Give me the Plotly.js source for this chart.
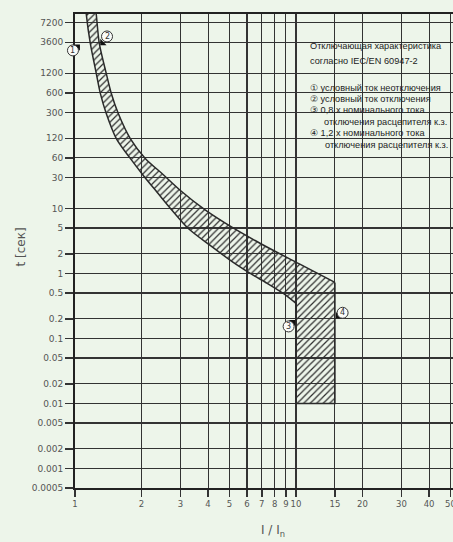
<!DOCTYPE html>
<html><head><meta charset="utf-8">
<script src="https://cdn.plot.ly/plotly-3.0.1.min.js"></script>
<style>html,body{margin:0;padding:0;background:#edf5ea;overflow:hidden;}#chart{width:453px;height:542px;}</style>
</head><body><div id="chart"></div>
<script>
// Tick values / labels
const xTicks = [1,2,3,4,5,6,7,8,9,10,15,20,30,40,50];
const xTickText = ['1','2','3','4','5','6','7','8','9','10','15','20','30','40','50'];
const yTicks = [7200,3600,1200,600,300,120,60,30,10,5,2,1,0.5,0.2,0.1,0.05,0.02,0.01,0.005,0.002,0.001,0.0005];
const yTickText = ['7200','3600','1200','600','300','120','60','30','10','5','2','1','0.5','0.2','0.1','0.05','0.02','0.01','0.005','0.002','0.001','0.0005'];

// Upper (max tripping time) boundary of the band
const upperI = [1.243, 1.248, 1.288, 1.385, 1.46, 1.57, 1.779, 2.08, 2.51, 3.0, 3.88, 5.15, 6.9, 10.46, 15];
const upperT = [10500, 9660, 3455, 1194, 588, 289, 119, 58.8, 33.0, 18.9, 9.5, 5.1, 2.89, 1.375, 0.727];
// Lower (min tripping time) boundary of the band
const lowerI = [1.123, 1.125, 1.173, 1.248, 1.302, 1.385, 1.538, 1.779, 2.037, 2.357, 2.728, 3.256, 4.09, 5.2, 6.21, 7.42, 8.76, 10];
const lowerT = [10500, 9660, 3455, 1194, 588, 289, 119, 58.8, 32.2, 17.6, 9.65, 4.92, 2.7, 1.477, 1.0, 0.702, 0.492, 0.346];
// Instantaneous release zone
const instI = [10, 15];
const instMinT = 0.01;

// Reference points 1..4
const refLabels = ['1','2','3','4'];
const refCircI = [0.979, 1.396, 9.26, 16.25];
const refCircT = [2698, 4426, 0.153, 0.248];
const refArrowI = [1.03, 1.33, 9.7, 15.5];
const refArrowT = [3100, 3500, 0.178, 0.22];
const refArrowSym = ['triangle-ne','triangle-sw','triangle-ne','triangle-sw'];

const legendLines = [
  'Отключающая характеристика',
  'согласно IEC/EN 60947-2',
  '① условный ток неотключения',
  '② условный ток отключения',
  '③ 0,8 х номинального тока',
  'отключения расцепителя к.з.',
  '④ 1,2 х номинального тока',
  'отключения расцепителя к.з.'
];

const W = 453, H = 542, L = 75, T = 14, B = 54, R = 0;
const pw = W - L - R, ph = H - T - B;
const xr = [0, pw / 221];
const yr = [Math.log10(0.0005), Math.log10(0.0005) + ph / 65];
const bg = '#edf5ea';
const px = v => (Math.log10(v) - xr[0]) / (xr[1] - xr[0]);
const py = v => (Math.log10(v) - yr[0]) / (yr[1] - yr[0]);

const polyX = upperI.concat([instI[1], instI[0]]).concat(lowerI.slice().reverse());
const polyY = upperT.concat([instMinT, instMinT]).concat(lowerT.slice().reverse());

const edge = {color: '#2a2a2a', width: 1.5};
const traces = [
  {
    x: polyX, y: polyY, mode: 'lines', fill: 'toself',
    fillcolor: 'rgba(0,0,0,0)',
    fillpattern: {shape: '/', fgcolor: '#2e2e2e', bgcolor: 'rgba(0,0,0,0)', size: 4.6, solidity: 0.26},
    line: {width: 0},
    hoverinfo: 'skip', showlegend: false
  },
  {x: upperI, y: upperT, mode: 'lines', line: Object.assign({shape: 'spline', smoothing: 0.8}, edge), hoverinfo: 'skip', showlegend: false},
  {x: lowerI, y: lowerT, mode: 'lines', line: Object.assign({shape: 'spline', smoothing: 0.8}, edge), hoverinfo: 'skip', showlegend: false},
  {x: [instI[1], instI[1], instI[0], instI[0]], y: [upperT[upperT.length-1], instMinT, instMinT, lowerT[lowerT.length-1]],
   mode: 'lines', line: edge, hoverinfo: 'skip', showlegend: false},
  {
    x: refArrowI, y: refArrowT, mode: 'markers',
    marker: {symbol: refArrowSym, size: 7, color: '#111'},
    hoverinfo: 'skip', showlegend: false, cliponaxis: false
  }
];

const shapes = [{
  type: 'rect', xref: 'paper', yref: 'paper', layer: 'between',
  x0: (297 - L) / pw, x1: 1.02, y0: (H - B - 200) / ph, y1: 1,
  fillcolor: bg, line: {width: 0}
}];
const annotations = [];
refLabels.forEach((lab, i) => {
  const cx = px(refCircI[i]), cy = py(refCircT[i]);
  shapes.push({
    type: 'circle', xref: 'paper', yref: 'paper', xsizemode: 'pixel', ysizemode: 'pixel',
    xanchor: cx, yanchor: cy, x0: -5.5, x1: 5.5, y0: -5.5, y1: 5.5,
    fillcolor: '#fafcf9', line: {color: '#333', width: 1}, layer: 'above'
  });
  annotations.push({
    xref: 'paper', yref: 'paper', x: cx, y: cy, xanchor: 'center', yanchor: 'middle',
    showarrow: false, text: lab, font: {family: 'DejaVu Sans', size: 8, color: '#333'}
  });
});

const legendY = [45.7, 61, 88.3, 99, 110, 121.7, 133.3, 145];
const legendX = [308, 308, 308, 308, 308, 321.5, 308, 323.3];
legendLines.forEach((t, i) => annotations.push({
  xref: 'paper', yref: 'paper',
  x: (legendX[i] - L) / pw, y: (H - B - legendY[i]) / ph,
  xanchor: 'left', yanchor: 'middle', showarrow: false, text: t,
  font: {family: 'Liberation Sans, Arial, sans-serif', size: 9.2, color: '#222'}
}));
annotations.push({
  xref: 'paper', yref: 'paper', x: (273 - L) / pw, y: (H - B - 531) / ph,
  xanchor: 'center', yanchor: 'middle', showarrow: false,
  text: 'I / I<sub>n</sub>', font: {family: 'DejaVu Sans', size: 12, color: '#555'}
});
annotations.push({
  xref: 'paper', yref: 'paper', x: (20 - L) / pw, y: (H - B - 247.5) / ph,
  xanchor: 'center', yanchor: 'middle', showarrow: false, textangle: -90,
  text: 't [сек]', font: {family: 'DejaVu Sans', size: 12, color: '#555'}
});

const layout = {
  width: W, height: H,
  margin: {l: L, r: R, t: T, b: B, pad: 0},
  paper_bgcolor: bg, plot_bgcolor: bg,
  showlegend: false,
  xaxis: {
    type: 'log', range: xr, tickvals: xTicks, ticktext: xTickText, tickangle: 0,
    ticklabeloverflow: 'allow',
    showgrid: true, gridcolor: '#333', gridwidth: 1.1,
    zeroline: false, showline: true, linecolor: '#222', linewidth: 2, mirror: true,
    ticks: 'outside', ticklen: 7, tickwidth: 1.5, tickcolor: '#333',
    tickfont: {family: 'DejaVu Sans', size: 8.5, color: '#555'}, fixedrange: true
  },
  yaxis: {
    type: 'log', range: yr, tickvals: yTicks, ticktext: yTickText,
    showgrid: true, gridcolor: '#333', gridwidth: 1.1,
    zeroline: false, showline: true, linecolor: '#222', linewidth: 2,
    ticks: 'outside', ticklen: 8, tickwidth: 1.5, tickcolor: '#333',
    tickfont: {family: 'DejaVu Sans', size: 9, color: '#555'}, fixedrange: true
  },
  shapes: shapes,
  annotations: annotations
};

Plotly.newPlot('chart', traces, layout, {staticPlot: true, displayModeBar: false});
</script></body></html>
